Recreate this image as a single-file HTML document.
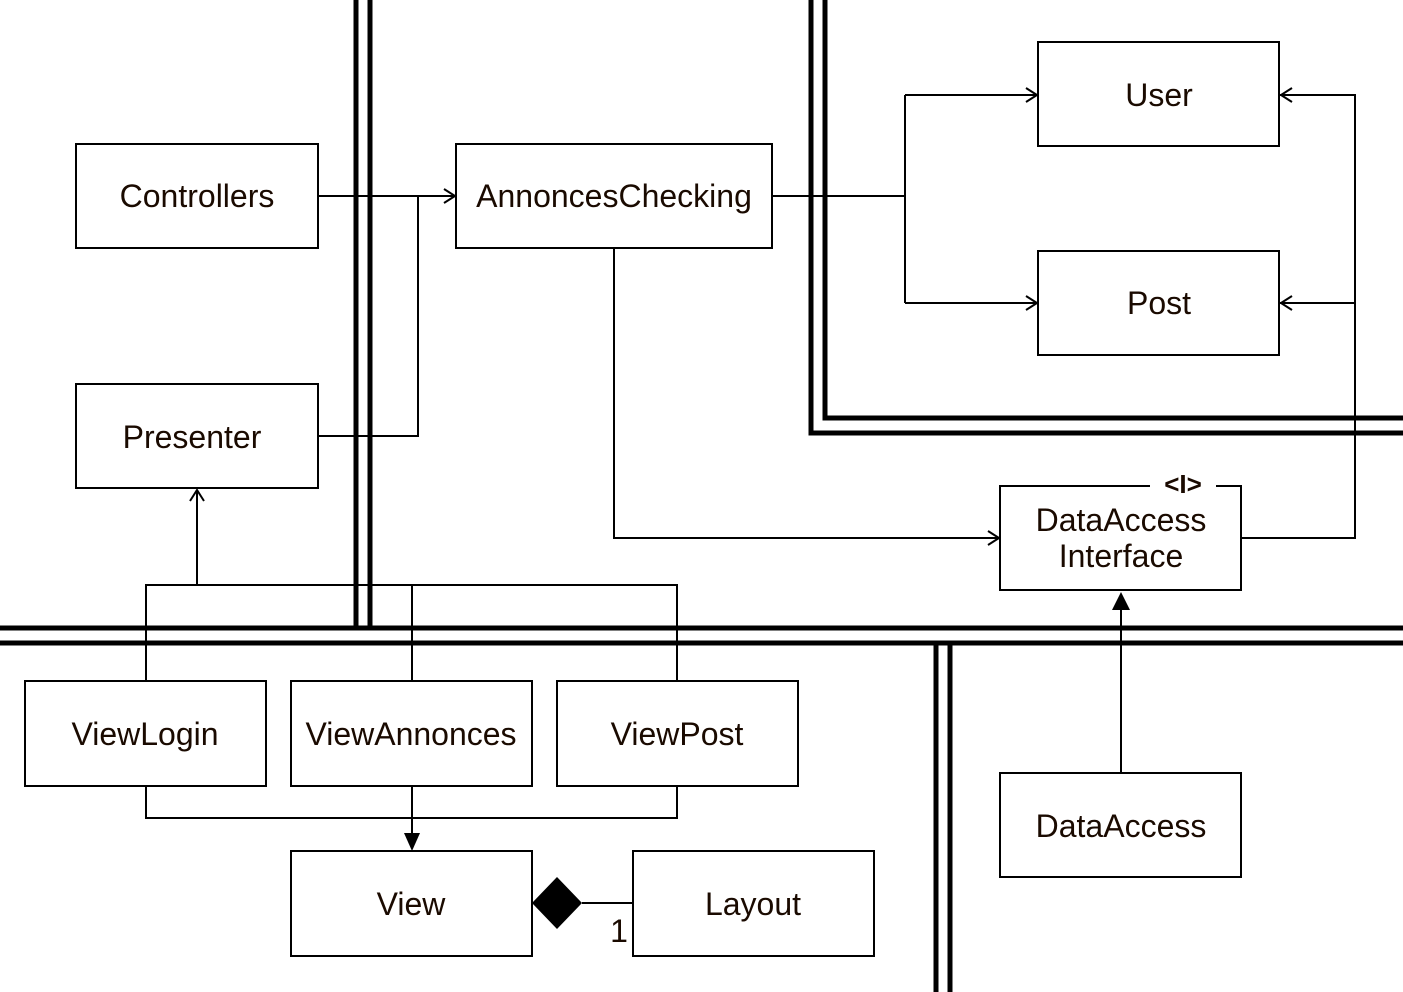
<!DOCTYPE html>
<html><head><meta charset="utf-8"><style>
html,body{margin:0;padding:0;background:#fff;}
svg{display:block;}
text{font-family:"Liberation Sans",sans-serif;font-size:32px;fill:#1a0a00;text-anchor:middle;}
</style></head><body>
<svg width="1403" height="992" viewBox="0 0 1403 992" xmlns="http://www.w3.org/2000/svg">
<g stroke="#000" stroke-width="5" fill="none">
<line x1="356" y1="0" x2="356" y2="628"/>
<line x1="370" y1="0" x2="370" y2="628"/>
<line x1="0" y1="628" x2="1403" y2="628"/>
<line x1="0" y1="643" x2="1403" y2="643"/>
<line x1="936" y1="643" x2="936" y2="992"/>
<line x1="950" y1="643" x2="950" y2="992"/>
<polyline points="811,0 811,433 1403,433"/>
<polyline points="825,0 825,418 1403,418"/>
</g>
<g stroke="#000" stroke-width="2" fill="#fff">
<rect x="76" y="144" width="242" height="104"/>
<rect x="456" y="144" width="316" height="104"/>
<rect x="1038" y="42" width="241" height="104"/>
<rect x="1038" y="251" width="241" height="104"/>
<rect x="76" y="384" width="242" height="104"/>
<rect x="1000" y="486" width="241" height="104"/>
<rect x="25" y="681" width="241" height="105"/>
<rect x="291" y="681" width="241" height="105"/>
<rect x="557" y="681" width="241" height="105"/>
<rect x="291" y="851" width="241" height="105"/>
<rect x="633" y="851" width="241" height="105"/>
<rect x="1000" y="773" width="241" height="104"/>
</g>
<rect x="1150" y="480" width="66" height="12" fill="#fff"/>
<g stroke="#000" stroke-width="2" fill="none">
<polyline points="318,196 454,196"/>
<polyline points="318,436 418,436 418,196"/>
<polyline points="444,189 455,196 444,203"/>
<polyline points="772,196 905,196"/>
<polyline points="905,95 905,303"/>
<polyline points="905,95 1037,95"/>
<polyline points="905,303 1037,303"/>
<polyline points="1026,88 1037,95 1026,102"/>
<polyline points="1026,296 1037,303 1026,310"/>
<polyline points="1241,538 1355,538 1355,95 1280,95"/>
<polyline points="1355,303 1280,303"/>
<polyline points="1292,88 1281,95 1292,102"/>
<polyline points="1292,296 1281,303 1292,310"/>
<polyline points="614,248 614,538 999,538"/>
<polyline points="988,531 999,538 988,545"/>
<polyline points="197,585 197,490"/>
<polyline points="190,501 197,490 204,501"/>
<polyline points="146,681 146,585 677,585 677,681"/>
<polyline points="412,585 412,681"/>
<polyline points="146,786 146,818 677,818 677,786"/>
<polyline points="412,786 412,835"/>
<polyline points="1121,773 1121,606"/>
<line x1="582" y1="903" x2="633" y2="903"/>
</g>
<polygon points="404,833 420,833 412,851" fill="#000"/>
<polygon points="1112,610 1130,610 1121,592" fill="#000"/>
<polygon points="532,903 557,877 582,903 557,929" fill="#000"/>
<text x="197" y="207">Controllers</text>
<text x="614" y="207">AnnoncesChecking</text>
<text x="1159" y="106">User</text>
<text x="1159" y="314">Post</text>
<text x="192" y="448">Presenter</text>
<text x="1121" y="531">DataAccess</text>
<text x="1121" y="567">Interface</text>
<text x="1183" y="493" style="font-size:26px;font-weight:bold">&lt;I&gt;</text>
<text x="145" y="745">ViewLogin</text>
<text x="411" y="745">ViewAnnonces</text>
<text x="677" y="745">ViewPost</text>
<text x="411" y="915">View</text>
<text x="753" y="915">Layout</text>
<text x="1121" y="837">DataAccess</text>
<text x="619" y="942">1</text>
</svg>
</body></html>
